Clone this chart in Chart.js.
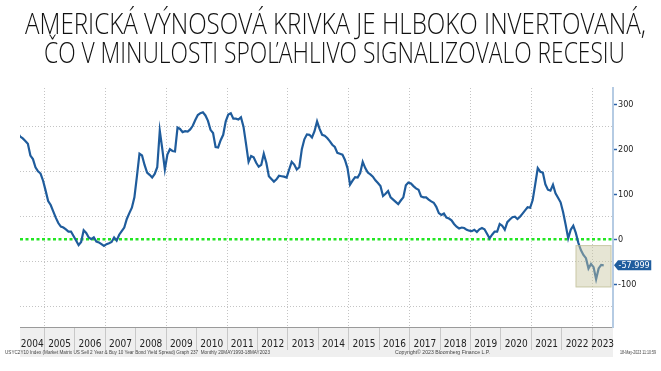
<!DOCTYPE html>
<html>
<head>
<meta charset="utf-8">
<script src="https://cdn.jsdelivr.net/npm/chart.js@4.4.0/dist/chart.umd.min.js"></script>
<style>
html, body { margin: 0; padding: 0; background: #fff; }
#wrap { position: relative; width: 661px; height: 371px; overflow: hidden; }
canvas { position: absolute; left: 0; top: 0; }
.title { position: absolute; left: 0; white-space: nowrap; font-family: 'Open Sans', sans-serif; font-weight: 300; font-size: 29px; line-height: 29px; color: #111; transform-origin: 0 0; }
.note { position: absolute; white-space: nowrap; font-family: 'Liberation Sans', Arial, sans-serif; font-size: 5px; line-height: 5px; color: #444; transform-origin: 0 0; }
</style>
</head>
<body>
<div id="wrap">
  <canvas id="myChart" width="661" height="371"></canvas>
  <div class="title" id="t1">AMERICKÁ VÝNOSOVÁ KRIVKA JE HLBOKO INVERTOVANÁ,</div>
  <div class="title" id="t2">ČO V MINULOSTI SPOĽAHLIVO SIGNALIZOVALO RECESIU</div>
  <div class="note" id="n1">USYC2Y10 Index (Market Matrix US Sell 2 Year &amp; Buy 10 Year Bond Yield Spread) Graph 237&nbsp; Monthly 20MAY1993-18MAY2023</div>
  <div class="note" id="n2">Copyright© 2023 Bloomberg Finance L.P.</div>
  <div class="note" id="n3">18-May-2023 11:10:59</div>
</div>
<script>
'use strict';
// 10y - 2y spread in basis points, monthly, first value = Feb 2004
let firstYear = 2004;
let firstMonth = 2;
let spread = [
    236, 228, 224, 218, 212, 186, 178, 160, 151, 146, 130,      // 2004
    108, 85, 76, 62, 48, 36, 28, 26, 22, 17, 17, 7,             // 2005
    -3, -13, -6, 20, 14, 4, 0, 4, -5, -7, -11, -15,             // 2006
    -11, -9, -6, 4, -3, 10, 18, 26, 45, 58, 70, 93,             // 2007
    140, 190, 186, 165, 148, 143, 137, 145, 160, 241, 200, 155, // 2008
    188, 200, 196, 195, 248, 245, 238, 240, 239, 244, 252, 265, // 2009
    276, 280, 282, 275, 263, 243, 236, 205, 204, 220, 232, 262, // 2010
    277, 280, 268, 268, 266, 271, 250, 212, 172, 185, 182, 170, // 2011
    161, 165, 190, 170, 140, 134, 128, 133, 141, 140, 139, 137, // 2012
    155, 172, 166, 155, 160, 200, 222, 233, 232, 226, 240, 262, // 2013
    245, 232, 230, 225, 218, 210, 205, 192, 190, 188, 176, 158, // 2014
    121, 130, 138, 137, 147, 172, 158, 148, 144, 139, 131, 125, // 2015
    118, 96, 101, 107, 93, 88, 83, 78, 86, 93, 120, 126,        // 2016
    124, 118, 113, 110, 95, 93, 93, 88, 84, 81, 72, 58,         // 2017
    54, 57, 48, 46, 42, 34, 28, 24, 26, 25, 21, 19,             // 2018
    18, 21, 16, 22, 25, 22, 12, 2, 10, 17, 17, 34,              // 2019
    30, 21, 38, 44, 49, 50, 45, 50, 57, 64, 71, 70,             // 2020
    87, 122, 158, 150, 148, 122, 110, 108, 121, 102, 92, 82,    // 2021
    60, 32, 2, 21, 30, 14, -8, -24, -35, -42, -65, -55,         // 2022
    -62, -89, -65, -57, -57.999                                 // 2023
];
let yearLabels = ['2004', '2005', '2006', '2007', '2008', '2009', '2010', '2011', '2012', '2013',
    '2014', '2015', '2016', '2017', '2018', '2019', '2020', '2021', '2022', '2023'];
let yTickValues = [-150, -100, -50, 0, 50, 100, 150, 200, 250, 300];
let yLabelValues = [-100, 0, 100, 200, 300];
let zeroLevel = [0, 0];
// shaded area round the latest inversion (x in years, y in bp)
let highlightBox = { from: 2022.45, to: 2023.63, top: -13, bottom: -107 };

let xMin = 2004.2;
let xMax = 2023.68;

let points = spread.map(function (v, i) {
    let m = firstMonth - 1 + i;
    return { x: firstYear + (m + 0.5) / 12, y: v };
});
let lastValue = spread[spread.length - 1];
let gridYears = yearLabels.map(Number).filter(function (y) { return y > xMin && y < xMax; });

let axisFont = "'Liberation Sans Narrow', 'DejaVu Sans Condensed', Arial, sans-serif";
let clear = 'rgba(0,0,0,0)';

let overlays = {
    id: 'overlays',
    afterDatasetsDraw(chart) {
        let ctx = chart.ctx;
        let xs = chart.scales.x, ys = chart.scales.y;
        let x0 = xs.getPixelForValue(highlightBox.from);
        let x1 = xs.getPixelForValue(highlightBox.to);
        let y0 = ys.getPixelForValue(highlightBox.top);
        let y1 = ys.getPixelForValue(highlightBox.bottom);
        ctx.save();
        ctx.fillStyle = 'rgba(200,198,160,0.45)';
        ctx.fillRect(x0, y0, x1 - x0, y1 - y0);
        ctx.strokeStyle = 'rgba(185,183,140,0.6)';
        ctx.lineWidth = 1;
        ctx.strokeRect(x0 + 0.5, y0 + 0.5, x1 - x0 - 1, y1 - y0 - 1);
        ctx.restore();
    },
    afterDraw(chart) {
        let ctx = chart.ctx;
        let ys = chart.scales.y;
        let yv = ys.getPixelForValue(lastValue);
        let ax = ys.left;
        let txt = lastValue.toFixed(3);
        ctx.save();
        ctx.font = '9px ' + axisFont;
        let tw = ctx.measureText(txt).width;
        ctx.fillStyle = '#1f5d9e';
        ctx.beginPath();
        ctx.moveTo(ax + 1, yv);
        ctx.lineTo(ax + 5, yv - 5);
        ctx.lineTo(ax + 7 + tw, yv - 5);
        ctx.lineTo(ax + 7 + tw, yv + 5);
        ctx.lineTo(ax + 5, yv + 5);
        ctx.closePath();
        ctx.fill();
        ctx.fillStyle = '#fff';
        ctx.textBaseline = 'middle';
        ctx.textAlign = 'left';
        ctx.fillText(txt, ax + 5.5, yv + 0.5);
        ctx.restore();
    }
};

let ctx = document.getElementById('myChart').getContext('2d');
let myChart = new Chart(ctx, {
    type: 'line',
    data: {
        datasets: [{
            label: 'USYC2Y10',
            data: points,
            borderColor: '#1f5c9c',
            borderWidth: 2.2,
            pointRadius: 0,
            tension: 0
        }, {
            label: 'zero',
            data: [{ x: xMin, y: zeroLevel[0] }, { x: xMax, y: zeroLevel[1] }],
            borderColor: '#22e622',
            borderWidth: 2.5,
            borderDash: [3, 2.5],
            pointRadius: 0
        }]
    },
    options: {
        animation: false,
        responsive: false,
        layout: { padding: { left: 20, top: 88, right: 0, bottom: 14 } },
        plugins: { legend: { display: false }, tooltip: { enabled: false } },
        scales: {
            x: {
                type: 'linear', position: 'bottom', weight: 0,
                min: xMin, max: xMax,
                afterBuildTicks: function (s) { s.ticks = gridYears.map(function (v) { return { value: v }; }); },
                afterFit: function (s) { s.height = 0; },
                ticks: { display: false },
                grid: {
                    color: function (c) { return (c.tick && c.tick.value % 2 === 1) ? '#c4c4c4' : clear; },
                    lineWidth: 1,
                    tickLength: 23,
                    tickColor: '#c8c8c8',
                    tickWidth: 1,
                    z: 0
                },
                border: { display: true, color: '#9a9a9a', width: 1, dash: [1, 2] }
            },
            xl: {
                type: 'linear', position: 'bottom', weight: 1,
                min: xMin, max: xMax,
                backgroundColor: '#efefef',
                afterBuildTicks: function (s) {
                    s.ticks = yearLabels.map(function (lbl) {
                        let y = Number(lbl);
                        let lo = Math.max(y, s.min), hi = Math.min(y + 1, s.max);
                        return { value: (lo + hi) / 2 };
                    });
                },
                afterFit: function (s) { s.height = 30; },
                grid: { display: false },
                border: { display: false },
                ticks: {
                    autoSkip: false, maxRotation: 0, minRotation: 0, padding: 3,
                    color: '#222', font: { family: axisFont, size: 10 },
                    callback: function (v) { return yearLabels[Math.floor(v) - firstYear]; }
                }
            },
            y: {
                type: 'linear', position: 'right',
                min: -195, max: 336,
                afterBuildTicks: function (s) { s.ticks = yTickValues.map(function (v) { return { value: v }; }); },
                afterFit: function (s) { s.width = 48; },
                grid: {
                    color: function (c) { return (c.tick && yLabelValues.indexOf(c.tick.value) < 0) ? '#c4c4c4' : clear; },
                    tickColor: function (c) { return (c.tick && yLabelValues.indexOf(c.tick.value) >= 0) ? '#2a62a8' : clear; },
                    tickLength: 4,
                    tickWidth: 1.5
                },
                border: { display: true, color: '#b5cbe3', width: 2, dash: [1, 2] },
                ticks: {
                    padding: 1, color: '#222', font: { family: axisFont, size: 9 },
                    callback: function (v) { return yLabelValues.indexOf(v) >= 0 ? String(v) : ''; }
                }
            }
        }
    },
    plugins: [overlays]
});

function fitText(id, left, top, width) {
    let el = document.getElementById(id);
    el.style.left = left + 'px';
    el.style.top = top + 'px';
    let w = el.getBoundingClientRect().width;
    el.style.transform = 'scaleX(' + (width / w) + ')';
}
fitText('t1', 25, 7.5, 621);
fitText('t2', 44, 37, 581);
fitText('n1', 5, 350, 265);
fitText('n2', 395, 350, 95);
fitText('n3', 620, 350, 36);
</script>
</body>
</html>
